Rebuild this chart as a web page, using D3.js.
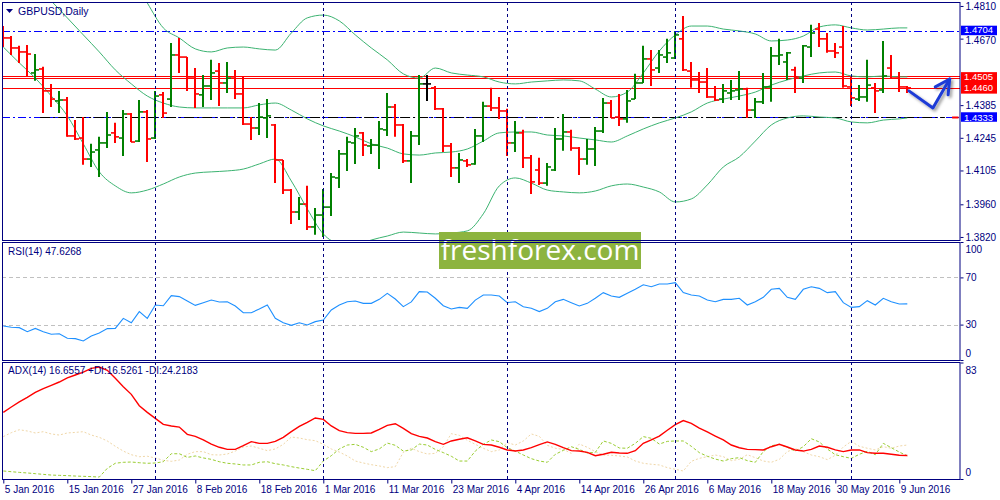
<!DOCTYPE html>
<html>
<head>
<meta charset="utf-8">
<script src="https://cdn.jsdelivr.net/npm/d3@7"></script>
<style>
  body { margin: 0; background: #fff; }
  svg text { font-family: Tahoma, "Liberation Sans", Arial, sans-serif; }
</style>
</head>
<body>
<div id="chart"></div>
<script>
// daily GBPUSD bars, 5 Jan 2016 .. 10 Jun 2016
var opens = [1.4707,1.4673,1.4630,1.4613,1.4523,1.4540,1.4446,1.4403,1.4407,1.4253,
  1.4244,1.4154,1.4193,1.4223,1.4266,1.4244,1.4347,1.4231,1.4356,1.4244,
  1.4429,1.4411,1.4600,1.4591,1.4501,1.4429,1.4467,1.4531,1.4480,1.4501,
  1.4433,1.4304,1.4287,1.4330,1.4300,1.4150,1.4021,1.3927,1.3961,1.3863,
  1.3914,1.3948,1.4073,1.4176,1.4223,1.4266,1.4210,1.4214,1.4279,1.4377,
  1.4300,1.4146,1.4253,1.4476,1.4459,1.4369,1.4210,1.4116,1.4146,1.4133,
  1.4253,1.4381,1.4373,1.4360,1.4223,1.4266,1.4159,1.4107,1.4051,1.4107,
  1.4240,1.4270,1.4201,1.4154,1.4197,1.4274,1.4394,1.4334,1.4326,1.4411,
  1.4480,1.4583,1.4544,1.4591,1.4587,1.4669,1.4531,1.4493,1.4484,1.4420,
  1.4411,1.4437,1.4450,1.4454,1.4364,1.4399,1.4463,1.4596,1.4570,1.4536,
  1.4501,1.4634,1.4711,1.4669,1.4617,1.4634,1.4463,1.4411,1.4420,1.4459,
  1.4450,1.4544,1.4501,1.4463];
var highs = [1.4724,1.4681,1.4639,1.4643,1.4604,1.4549,1.4476,1.4446,1.4420,1.4321,
  1.4334,1.4219,1.4249,1.4356,1.4309,1.4364,1.4351,1.4407,1.4364,1.4446,
  1.4441,1.4651,1.4673,1.4591,1.4544,1.4514,1.4579,1.4566,1.4570,1.4536,
  1.4510,1.4334,1.4394,1.4411,1.4304,1.4150,1.4026,1.3991,1.4039,1.3944,
  1.4026,1.4094,1.4193,1.4249,1.4287,1.4270,1.4240,1.4317,1.4437,1.4390,
  1.4304,1.4274,1.4514,1.4514,1.4467,1.4373,1.4223,1.4180,1.4154,1.4283,
  1.4399,1.4459,1.4420,1.4369,1.4317,1.4279,1.4171,1.4159,1.4137,1.4287,
  1.4347,1.4279,1.4206,1.4240,1.4291,1.4416,1.4407,1.4433,1.4450,1.4519,
  1.4639,1.4621,1.4621,1.4669,1.4699,1.4767,1.4570,1.4527,1.4544,1.4467,
  1.4476,1.4493,1.4531,1.4459,1.4416,1.4523,1.4634,1.4669,1.4613,1.4549,
  1.4643,1.4729,1.4737,1.4694,1.4651,1.4724,1.4506,1.4471,1.4579,1.4480,
  1.4660,1.4600,1.4527,1.4467];
var lows = [1.4634,1.4600,1.4566,1.4510,1.4489,1.4351,1.4377,1.4351,1.4249,1.4236,
  1.4129,1.4120,1.4077,1.4201,1.4223,1.4167,1.4227,1.4227,1.4141,1.4240,
  1.4330,1.4377,1.4523,1.4446,1.4373,1.4377,1.4407,1.4381,1.4437,1.4411,
  1.4300,1.4236,1.4257,1.4244,1.4051,1.4004,1.3876,1.3893,1.3850,1.3829,
  1.3820,1.3910,1.4030,1.4103,1.4133,1.4167,1.4176,1.4111,1.4253,1.4249,
  1.4137,1.4051,1.4214,1.4403,1.4364,1.4184,1.4077,1.4051,1.4120,1.4129,
  1.4227,1.4360,1.4326,1.4167,1.4184,1.4116,1.4004,1.4043,1.4039,1.4103,
  1.4189,1.4189,1.4086,1.4129,1.4124,1.4266,1.4330,1.4296,1.4309,1.4411,
  1.4480,1.4467,1.4523,1.4566,1.4583,1.4531,1.4459,1.4437,1.4416,1.4403,
  1.4394,1.4407,1.4407,1.4330,1.4330,1.4390,1.4399,1.4557,1.4493,1.4437,
  1.4480,1.4591,1.4634,1.4609,1.4587,1.4459,1.4381,1.4403,1.4399,1.4351,
  1.4437,1.4497,1.4441,1.4437];
var closes = [1.4673,1.4630,1.4613,1.4604,1.4536,1.4446,1.4411,1.4407,1.4253,1.4240,
  1.4154,1.4184,1.4223,1.4257,1.4249,1.4347,1.4227,1.4356,1.4240,1.4424,
  1.4351,1.4600,1.4591,1.4501,1.4433,1.4467,1.4523,1.4480,1.4501,1.4433,
  1.4304,1.4287,1.4334,1.4339,1.4150,1.4021,1.3927,1.3961,1.3863,1.3914,
  1.3948,1.4077,1.4176,1.4227,1.4253,1.4214,1.4214,1.4283,1.4377,1.4300,
  1.4146,1.4253,1.4476,1.4476,1.4369,1.4210,1.4116,1.4150,1.4129,1.4253,
  1.4381,1.4373,1.4360,1.4223,1.4266,1.4159,1.4056,1.4051,1.4120,1.4240,
  1.4270,1.4201,1.4154,1.4197,1.4274,1.4394,1.4330,1.4326,1.4403,1.4480,
  1.4583,1.4536,1.4600,1.4609,1.4686,1.4536,1.4493,1.4484,1.4420,1.4407,
  1.4446,1.4446,1.4454,1.4364,1.4399,1.4463,1.4596,1.4600,1.4609,1.4501,
  1.4639,1.4694,1.4669,1.4617,1.4609,1.4467,1.4416,1.4420,1.4471,1.4446,
  1.4510,1.4501,1.4463,1.4459];

// Bollinger bands (20), read every second bar
var bandIdx = [0,2,4,6,8,10,12,14,16,18,20,22,24,26,28,30,32,34,36,38,40,42,44,46,48,50,
  52,54,56,58,60,62,64,66,68,70,72,74,76,78,80,82,84,86,88,90,92,94,96,98,100,102,104,106,108,110,112,113];
var bbUpper = [1.5424,1.5362,1.5291,1.5238,1.5179,1.5153,1.5127,1.5033,1.4943,1.4823,
  1.4716,1.4673,1.4626,1.4613,1.4630,1.4634,1.4626,1.4621,1.4694,1.4759,
  1.4771,1.4746,1.4686,1.4630,1.4579,1.4519,1.4501,1.4544,1.4523,1.4514,
  1.4506,1.4484,1.4476,1.4484,1.4489,1.4493,1.4489,1.4454,1.4420,1.4441,
  1.4523,1.4617,1.4686,1.4724,1.4724,1.4711,1.4703,1.4690,1.4660,1.4664,
  1.4681,1.4720,1.4729,1.4716,1.4707,1.4711,1.4716,1.4716];
var bbMiddle = [1.5029,1.4964,1.4896,1.4831,1.4759,1.4686,1.4613,1.4536,1.4476,1.4424,
  1.4394,1.4377,1.4373,1.4373,1.4373,1.4373,1.4386,1.4394,1.4364,1.4326,
  1.4296,1.4274,1.4249,1.4219,1.4201,1.4176,1.4171,1.4180,1.4184,1.4197,
  1.4231,1.4266,1.4270,1.4270,1.4257,1.4253,1.4244,1.4236,1.4227,1.4253,
  1.4283,1.4309,1.4330,1.4356,1.4394,1.4411,1.4424,1.4441,1.4471,1.4493,
  1.4510,1.4523,1.4527,1.4510,1.4506,1.4510,1.4506,1.4506];
var bbLower = [1.4634,1.4566,1.4501,1.4424,1.4339,1.4219,1.4099,1.4039,1.4009,1.4021,
  1.4047,1.4077,1.4094,1.4099,1.4103,1.4111,1.4133,1.4154,1.4060,1.3940,
  1.3833,1.3790,1.3781,1.3807,1.3824,1.3841,1.3837,1.3833,1.3837,1.3846,
  1.3919,1.4039,1.4073,1.4051,1.4021,1.4013,1.4009,1.4017,1.4039,1.4047,
  1.4034,1.4013,1.3970,1.3983,1.4043,1.4120,1.4163,1.4231,1.4300,1.4330,
  1.4339,1.4334,1.4330,1.4313,1.4309,1.4321,1.4326,1.4330];

// RSI(14)
var rsi = [28.8,27.7,27.4,24.0,26.8,24.0,21.8,22.3,18.4,18.1,
  16.1,20.3,22.9,26.6,26.8,35.3,31.6,41.0,35.3,46.6,
  46.0,54.5,53.7,50.0,46.3,48.6,50.8,49.2,49.4,45.8,
  40.1,40.1,43.2,46.6,35.3,31.6,29.4,31.6,29.7,32.5,
  33.9,42.4,46.6,49.4,50.0,48.0,48.0,51.4,56.5,51.7,
  45.2,49.2,57.9,57.6,52.3,46.0,43.2,44.6,43.8,50.8,
  55.1,55.1,54.2,48.6,49.4,45.2,43.8,41.0,43.8,49.4,
  51.4,48.6,45.8,48.0,52.3,57.1,54.2,53.1,56.5,59.9,
  63.8,62.1,64.4,64.4,65.5,57.1,55.1,54.2,50.8,49.4,
  51.4,51.4,52.3,46.6,49.4,53.1,59.9,60.7,53.1,51.4,
  59.9,62.1,60.7,57.1,57.9,48.6,44.6,45.2,50.3,46.6,
  52.3,49.4,47.5,47.6];

// ADX(14), +DI, -DI
var adx = [47.5,51.3,54.9,58.2,61.7,64.4,66.7,69.1,72.0,74.1,
  76.2,78.8,79.8,77.4,71.7,65.8,60.3,52.2,47.5,43.2,
  38.9,37.8,37.0,31.8,30.4,27.8,24.9,22.6,21.1,21.1,
  23.7,26.6,25.4,25.4,26.8,29.7,33.7,37.5,40.4,43.5,
  42.5,37.8,34.4,33.0,32.5,32.5,32.8,35.4,38.2,39.4,
  36.1,32.3,30.4,29.2,26.6,24.7,27.1,28.3,29.4,27.1,
  24.7,24.2,22.6,20.7,19.9,20.7,22.3,24.5,26.4,24.7,
  22.3,20.2,19.9,19.0,16.6,17.6,19.0,18.5,18.3,20.2,
  25.4,27.8,30.6,34.7,38.7,41.6,39.7,36.3,33.5,30.6,
  27.8,24.2,22.3,21.1,20.9,20.7,23.0,24.7,22.8,20.7,
  19.9,21.1,23.5,22.6,20.7,19.5,20.7,20.7,18.8,18.3,
  18.3,17.6,16.9,16.7];
var plusDI = [5.7,5.2,4.7,4.3,3.8,3.3,2.8,2.6,2.4,2.1,
  1.9,1.7,1.4,7.6,11.2,11.9,12.1,11.6,11.2,11.4,
  12.3,18.0,18.0,15.4,16.4,15.0,14.0,12.3,11.2,10.7,
  10.0,10.0,11.9,12.3,10.9,10.0,8.8,7.8,6.9,5.9,
  12.8,16.6,21.4,24.2,24.7,22.6,19.5,21.4,25.6,24.0,
  19.9,20.7,24.9,24.2,21.1,18.8,16.2,12.8,12.8,19.9,
  24.7,27.8,26.6,22.3,19.9,17.1,14.5,12.8,11.9,17.6,
  20.4,23.0,21.1,18.5,19.0,27.1,25.4,22.1,21.9,25.4,
  30.2,29.0,24.9,26.8,27.1,27.1,23.3,18.8,16.2,14.2,
  12.8,14.5,15.2,13.1,11.9,19.5,23.7,24.7,22.6,19.9,
  23.0,28.7,26.4,21.4,17.3,15.9,14.7,17.6,19.7,17.3,
  25.4,22.3,19.2,16.5];
var minusDI = [30.2,33.0,35.1,34.2,32.8,33.7,32.1,31.3,32.8,33.2,
  33.7,31.3,29.7,27.1,23.3,19.9,17.3,15.9,16.2,15.0,
  13.3,12.6,13.5,17.6,19.5,19.5,17.3,17.1,17.8,19.9,
  22.8,23.5,21.9,20.2,21.4,24.7,29.9,29.2,28.0,27.3,
  24.7,21.4,19.2,16.4,12.8,11.4,10.2,9.3,8.1,8.8,
  19.0,21.9,19.5,17.8,18.3,23.0,32.3,31.1,27.6,24.7,
  21.9,19.5,20.7,25.9,24.2,27.1,32.1,30.4,24.0,21.9,
  21.1,18.3,24.9,22.6,19.5,17.1,16.9,16.4,15.7,12.8,
  11.2,10.5,10.0,8.1,6.9,5.7,12.6,14.7,15.9,17.1,
  15.9,13.1,14.0,17.3,15.2,12.8,11.9,14.0,19.5,21.6,
  19.5,17.1,15.9,13.8,16.9,22.8,26.8,23.3,21.9,20.7,
  23.0,21.9,23.5,24.2];

// axis labels
var dateTickIdx = [0,8,16,24,32,40,48,56,64,72,80,88,96,104,112];
var dateLabels = ["5 Jan 2016","15 Jan 2016","27 Jan 2016","8 Feb 2016","18 Feb 2016","1 Mar 2016",
  "11 Mar 2016","23 Mar 2016","4 Apr 2016","14 Apr 2016","26 Apr 2016","6 May 2016",
  "18 May 2016","30 May 2016","9 Jun 2016"];
var monthStartIdx = [19, 40, 63, 84, 106];
var priceTicks = [1.4810, 1.4670, 1.4385, 1.4245, 1.4105, 1.3960, 1.3820];
var rsiTicks = [100, 70, 30, 0];
var rsiLevels = [70, 30];
var adxTicks = [83, 0];

// drawn levels
var redLevels = [1.4511, 1.4503, 1.4460];
var dashLevels = [1.4704, 1.4333];
var hiPrices = [1.4704, 1.4333];
var hiFrom = [83.1, 4.6];
var hiTo = [119.4, 117.7];
var tagPrices = [1.4704, 1.4505, 1.4460, 1.4333];
var arrowIdx = [113.2, 116.2, 118.3];
var arrowPrice = [1.4446, 1.4373, 1.4497];
var arrowHeadIdx = [116.5, 118.3, 118.1];
var arrowHeadPrice = [1.4463, 1.4497, 1.4429];

var navy = "#000080";
var fontFam = 'Tahoma, "Liberation Sans", Arial, sans-serif';

var svg = d3.select("#chart")
  .append("svg")
    .attr("width", 1000)
    .attr("height", 500)
    .style("display", "block");

svg.append("rect").attr("width", 1000).attr("height", 500).attr("fill", "#fff");

// scales
var x = d3.scaleLinear().domain([0, 119.6]).range([3.3, 960.1]);
var y = d3.scaleLinear().domain([1.3807, 1.4827]).range([240, 2]);
var yRsi = d3.scaleLinear().domain([0, 100]).range([360, 242]);
var yAdx = d3.scaleLinear().domain([0, 83]).range([479, 362.5]);

var defs = svg.append("defs");
[["clipMain", 2, 240], ["clipRsi", 242, 360], ["clipAdx", 362, 479]].forEach(function(c) {
  defs.append("clipPath").attr("id", c[0])
    .append("rect").attr("x", 2).attr("y", c[1]).attr("width", 958).attr("height", c[2] - c[1]);
});
var shadow = defs.append("filter").attr("id", "shadow")
  .attr("x", "-5%").attr("y", "-200%").attr("width", "110%").attr("height", "500%");
shadow.append("feDropShadow").attr("dx", 0).attr("dy", 2).attr("stdDeviation", 1.4)
  .attr("flood-color", "#000").attr("flood-opacity", 0.45);
var shadow2 = defs.append("filter").attr("id", "shadow2")
  .attr("x", "-30%").attr("y", "-30%").attr("width", "160%").attr("height", "160%");
shadow2.append("feDropShadow").attr("dx", 2).attr("dy", 2).attr("stdDeviation", 1.5)
  .attr("flood-color", "#000").attr("flood-opacity", 0.4);

var gMain = svg.append("g").attr("clip-path", "url(#clipMain)");
var gRsi = svg.append("g").attr("clip-path", "url(#clipRsi)");
var gAdx = svg.append("g").attr("clip-path", "url(#clipAdx)");

// month separators
svg.append("g").selectAll("line")
  .data(monthStartIdx)
  .enter()
  .append("line")
    .attr("x1", function(d) { return Math.round(x(d)) + 0.5; })
    .attr("x2", function(d) { return Math.round(x(d)) + 0.5; })
    .attr("y1", 2)
    .attr("y2", 479)
    .attr("stroke", navy)
    .attr("stroke-dasharray", "3,3");

// RSI levels
gRsi.selectAll("lvl")
  .data(rsiLevels)
  .enter()
  .append("line")
    .attr("x1", 2).attr("x2", 960)
    .attr("y1", function(d) { return Math.round(yRsi(d)) + 0.5; })
    .attr("y2", function(d) { return Math.round(yRsi(d)) + 0.5; })
    .attr("stroke", "#c0c0c0")
    .attr("stroke-dasharray", "4,3");

// yellow highlights
gMain.selectAll("hi")
  .data(hiPrices)
  .enter()
  .append("line")
    .attr("x1", function(d, i) { return x(hiFrom[i]); })
    .attr("x2", function(d, i) { return x(hiTo[i]); })
    .attr("y1", function(d) { return y(d); })
    .attr("y2", function(d) { return y(d); })
    .attr("stroke", "#ffff00")
    .attr("stroke-width", 4.5)
    .attr("filter", "url(#shadow)");

// dash-dot levels
gMain.selectAll("dl")
  .data(dashLevels)
  .enter()
  .append("line")
    .attr("x1", 2).attr("x2", 960)
    .attr("y1", function(d) { return Math.round(y(d)) + 0.5; })
    .attr("y2", function(d) { return Math.round(y(d)) + 0.5; })
    .attr("stroke", "#0000ff")
    .attr("stroke-dasharray", "8,3,2,3");
// dark dashes over the lower highlight
gMain.append("line")
  .attr("x1", x(hiFrom[1])).attr("x2", x(hiTo[1]))
  .attr("y1", Math.round(y(hiPrices[1])) + 0.5).attr("y2", Math.round(y(hiPrices[1])) + 0.5)
  .attr("stroke", "#000")
  .attr("stroke-dasharray", "10,3,2,3");
gMain.append("line")
  .attr("x1", x(118.6)).attr("x2", x(119.4))
  .attr("y1", Math.round(y(hiPrices[1])) + 0.5).attr("y2", Math.round(y(hiPrices[1])) + 0.5)
  .attr("stroke", "#ff0000").attr("stroke-width", 2);

// red levels
gMain.selectAll("rl")
  .data(redLevels)
  .enter()
  .append("line")
    .attr("x1", 2).attr("x2", 960)
    .attr("y1", function(d) { return Math.round(y(d)) + 0.5; })
    .attr("y2", function(d) { return Math.round(y(d)) + 0.5; })
    .attr("stroke", "#ff0000");

// Bollinger bands
var bandLine = d3.line()
  .x(function(d, k) { return x(bandIdx[k]); })
  .y(function(d) { return y(d); })
  .curve(d3.curveMonotoneX);
[bbUpper, bbMiddle, bbLower].forEach(function(s) {
  gMain.append("path")
    .attr("d", bandLine(s))
    .attr("fill", "none")
    .attr("stroke", "#3cb371")
    .attr("stroke-width", 1);
});

// OHLC bars
var barColor = function(i) {
  if (closes[i] > opens[i]) return "#008000";
  if (closes[i] < opens[i]) return "#ff0000";
  return "#000000";
};
var bars = gMain.append("g").selectAll("g")
  .data(opens)
  .enter()
  .append("g")
    .attr("stroke", function(d, i) { return barColor(i); });
bars.append("line")
  .attr("x1", function(d, i) { return Math.round(x(i)); })
  .attr("x2", function(d, i) { return Math.round(x(i)); })
  .attr("y1", function(d, i) { return y(highs[i]); })
  .attr("y2", function(d, i) { return y(lows[i]); })
  .attr("stroke-width", 2);
bars.append("line")
  .attr("x1", function(d, i) { return Math.round(x(i)) - 4; })
  .attr("x2", function(d, i) { return Math.round(x(i)); })
  .attr("y1", function(d, i) { return y(opens[i]); })
  .attr("y2", function(d, i) { return y(opens[i]); })
  .attr("stroke-width", 1.6);
bars.append("line")
  .attr("x1", function(d, i) { return Math.round(x(i)); })
  .attr("x2", function(d, i) { return Math.round(x(i)) + 4; })
  .attr("y1", function(d, i) { return y(closes[i]); })
  .attr("y2", function(d, i) { return y(closes[i]); })
  .attr("stroke-width", 1.6);

// hand drawn arrow
var arrowLine = d3.line()
  .x(function(d) { return x(d[0]); })
  .y(function(d) { return y(d[1]); });
var arrowG = gMain.append("g").attr("filter", "url(#shadow2)");
arrowG.append("path")
  .attr("d", arrowLine(arrowIdx.map(function(d, i) { return [d, arrowPrice[i]]; })))
  .attr("fill", "none").attr("stroke", "#1f3ad6").attr("stroke-width", 3)
  .attr("stroke-linecap", "round").attr("stroke-linejoin", "round");
arrowG.append("path")
  .attr("d", arrowLine(arrowHeadIdx.map(function(d, i) { return [d, arrowHeadPrice[i]]; })))
  .attr("fill", "none").attr("stroke", "#1f3ad6").attr("stroke-width", 3)
  .attr("stroke-linecap", "round").attr("stroke-linejoin", "round");

// RSI line
var rsiLine = d3.line()
  .x(function(d, i) { return x(i); })
  .y(function(d) { return yRsi(d); });
gRsi.append("path")
  .attr("d", rsiLine(rsi))
  .attr("fill", "none")
  .attr("stroke", "#1e90ff")
  .attr("stroke-width", 1.1);

// ADX lines
var adxLine = d3.line()
  .x(function(d, i) { return x(i); })
  .y(function(d) { return yAdx(d); });
gAdx.append("path")
  .attr("d", adxLine(minusDI))
  .attr("fill", "none").attr("stroke", "#f0d7a8").attr("stroke-dasharray", "2,2");
gAdx.append("path")
  .attr("d", adxLine(plusDI))
  .attr("fill", "none").attr("stroke", "#9acd32").attr("stroke-dasharray", "3,2");
gAdx.append("path")
  .attr("d", adxLine(adx))
  .attr("fill", "none").attr("stroke", "#ff0000").attr("stroke-width", 1.4);

// watermark
svg.append("rect")
  .attr("x", 439).attr("y", 232).attr("width", 202).attr("height", 37)
  .attr("fill", "#8db43f");
svg.append("text")
  .attr("x", 540).attr("y", 260)
  .attr("text-anchor", "middle")
  .style("font-family", '"Open Sans", "Noto Sans", sans-serif')
  .style("font-size", "28px")
  .attr("fill", "#fff")
  .text("freshforex.com");

// panel frames
[[2, 240], [242, 360], [362, 479]].forEach(function(p) {
  svg.append("rect")
    .attr("x", 2.5).attr("y", p[0] + 0.5)
    .attr("width", 957.5).attr("height", p[1] - p[0])
    .attr("fill", "none")
    .attr("stroke", navy);
});

// price axis
var styleAxis = function(g) {
  g.attr("font-family", fontFam).attr("font-size", 10);
  g.select(".domain").remove();
  g.selectAll("line").attr("stroke", navy);
  g.selectAll("text").attr("fill", navy);
};
svg.append("g")
  .attr("transform", "translate(960.5,0)")
  .call(d3.axisRight(y).tickValues(priceTicks).tickSize(3).tickPadding(2).tickFormat(d3.format(".4f")))
  .call(styleAxis)
  .selectAll("text")
    .attr("dy", function(d) { return d === 1.4670 ? "0.45em" : "0.32em"; });

svg.append("g")
  .attr("transform", "translate(960.5,0)")
  .call(d3.axisRight(yRsi).tickValues(rsiTicks).tickSize(3).tickPadding(2))
  .call(styleAxis)
  .selectAll("text")
    .attr("dy", function(d) { return d === 100 ? "1.05em" : d === 0 ? "-0.35em" : "0.32em"; });

svg.append("g")
  .attr("transform", "translate(960.5,0)")
  .call(d3.axisRight(yAdx).tickValues(adxTicks).tickSize(3).tickPadding(2))
  .call(styleAxis)
  .selectAll("text")
    .attr("dy", function(d) { return d === 83 ? "1.1em" : "-0.35em"; });

// price tags
var tags = svg.append("g").selectAll("g")
  .data(tagPrices)
  .enter()
  .append("g");
tags.append("rect")
  .attr("x", 961)
  .attr("y", function(d) { return y(d) - 5; })
  .attr("width", 36)
  .attr("height", function(d) { return dashLevels.indexOf(d) >= 0 ? 9.5 : 11; })
  .attr("fill", function(d) { return dashLevels.indexOf(d) >= 0 ? "#0000ff" : "#ff0000"; });
tags.append("text")
  .attr("x", 964)
  .attr("y", function(d) { return y(d); })
  .attr("dy", function(d) { return d === 1.4704 ? "0.25em" : "0.35em"; })
  .attr("fill", "#fff")
  .style("font-size", "9.5px")
  .text(function(d) { return d3.format(".4f")(d); });

// date axis
svg.append("g")
  .attr("transform", "translate(0,479.5)")
  .call(d3.axisBottom(x).tickValues(dateTickIdx).tickSize(4).tickPadding(2)
    .tickFormat(function(d, i) { return dateLabels[i]; }))
  .call(styleAxis)
  .selectAll("text")
    .attr("text-anchor", "start")
    .attr("dx", 1);

// titles
svg.append("path")
  .attr("d", d3.line()([[6, 9], [13, 9], [9.5, 13]]) + "Z")
  .attr("fill", navy);
svg.append("text")
  .attr("x", 18).attr("y", 15)
  .attr("fill", navy)
  .style("font-size", "10.5px")
  .text("GBPUSD,Daily");
svg.append("text")
  .attr("x", 8).attr("y", 255)
  .attr("fill", navy)
  .style("font-size", "10px")
  .text("RSI(14) 47.6268");
svg.append("text")
  .attr("x", 8).attr("y", 374)
  .attr("fill", navy)
  .style("font-size", "10px")
  .text("ADX(14) 16.6557 +DI:16.5261 -DI:24.2183");
</script>
</body>
</html>
